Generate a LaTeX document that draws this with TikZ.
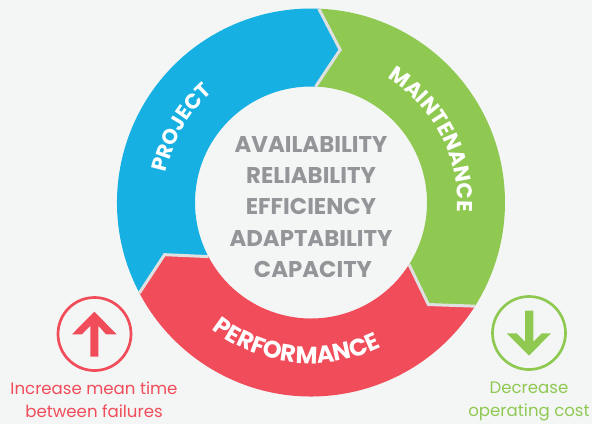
\documentclass[tikz,border=0pt]{standalone}
\usepackage{fontspec}
\usepackage{tikz}
\usetikzlibrary{decorations.text}
\setmainfont{Poppins}
\definecolor{ringblue}{HTML}{16B0E2}
\definecolor{ringgreen}{HTML}{8FC952}
\definecolor{ringred}{HTML}{F14C59}
\definecolor{paper}{HTML}{F4F6F6}
\definecolor{joint}{HTML}{DFE1E1}
\definecolor{goalgrey}{HTML}{939598}
\tikzset{
  goal/.style={text=goalgrey,font=\fontsize{22.8}{24}\selectfont\bfseries,inner sep=0pt,anchor=center},
  note/.style={font=\fontsize{16.6}{23}\selectfont,align=center,inner sep=0pt},
  sep/.style={joint,line width=3pt,line join=miter},
  ringlabel/.style 2 args={decorate,decoration={text along path,text align=center,
    text={|\fontsize{#1}{24}\selectfont\bfseries\color{white}|#2}}}
}
\begin{document}
\begin{tikzpicture}[x=1pt,y=1pt]
\pgfmathsetmacro\Ro{194}
\pgfmathsetmacro\Ri{116}
\useasboundingbox (0,0) rectangle (592,424);
\fill[paper] (0,0) rectangle (592,424);
\begin{scope}[shift={(311,221.5)}]
\coordinate (O) at (0,0);
\coordinate (A1) at (87.7:\Ro);
\coordinate (A2) at (79.2:155.5);
\coordinate (A3) at (87.7:\Ri);
\coordinate (B1) at (-32.3:\Ri);
\coordinate (B2) at (-41:155.5);
\coordinate (B3) at (-32.3:\Ro);
\coordinate (C1) at (207.8:\Ro);
\coordinate (C2) at (199.6:155.5);
\coordinate (C3) at (207.8:\Ri);
\fill[ringblue] (C1) arc[start angle=207.8,end angle=87.7,radius=\Ro] -- (A2) -- (A3)
  arc[start angle=87.7,end angle=207.8,radius=\Ri] -- (C2) -- cycle;
\fill[ringgreen] (A1) arc[start angle=87.7,end angle=-32.3,radius=\Ro] -- (B2) -- (B1)
  arc[start angle=-32.3,end angle=87.7,radius=\Ri] -- (A2) -- cycle;
\fill[ringred] (B3) arc[start angle=-32.3,end angle=-152.2,radius=\Ro] -- (C2) -- (C3)
  arc[start angle=207.8,end angle=327.7,radius=\Ri] -- (B2) -- cycle;
\draw[sep] (A1) -- (A2) -- (A3);
\draw[sep] (B1) -- (B2) -- (B3);
\draw[sep] (C1) -- (C2) -- (C3);
\path[ringlabel={21}{PROJECT}] (190:148) arc[start angle=190,end angle=110,radius=148];
\path[ringlabel={21.5}{MAINTENANCE}] (72.5:146) arc[start angle=72.5,end angle=-17.5,radius=146];
\path[ringlabel={24}{PERFORMANCE}] (218:161) arc[start angle=218,end angle=310,radius=161];
\end{scope}
\node[goal] (avail) at (311,280) {AVAILABILITY};
\node[goal] (relia) at (311,249) {RELIABILITY};
\node[goal] (effic) at (311,218) {EFFICIENCY};
\node[goal] (adapt) at (311,186) {ADAPTABILITY};
\node[goal] (capac) at (313,155) {CAPACITY};
% left icon
\draw[ringred,line width=2.7pt] (94.5,90) circle (36.5);
\fill[ringred] (90.3,67.3) -- (98.3,67.3) -- (98.3,98.3) -- (106,89.7) -- (116.7,89.7) -- (94.3,112.3) -- (72,89.7) -- (82,89.7) -- (90.3,98.3) -- cycle;
\node[note,text=ringred,anchor=north] (raise) at (94,42) {Increase mean time\\between failures};
% right icon
\draw[ringgreen,line width=2.7pt] (529,91) circle (36.5);
\fill[ringgreen] (525,113.3) -- (533.3,113.3) -- (533.3,82.3) -- (541.7,90.7) -- (551,90.7) -- (529,68.3) -- (506.7,90.7) -- (516.7,90.7) -- (525,82.3) -- cycle;
\node[note,text=ringgreen,anchor=north] (lower) at (529,42) {Decrease\\operating cost};
\end{tikzpicture}
\end{document}
